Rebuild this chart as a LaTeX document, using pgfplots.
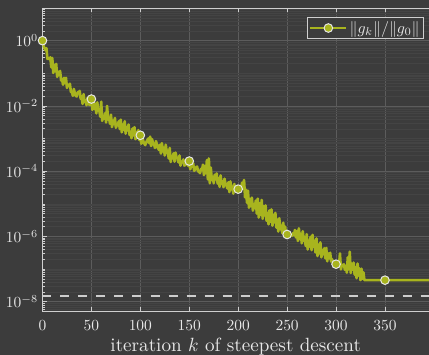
\documentclass[border=0pt]{standalone}
\usepackage{graphicx}
\usepackage{pgfplots}
\usepackage{pgfplotstable}
\pgfplotsset{compat=1.18}
\usetikzlibrary{backgrounds}
\definecolor{bg}{HTML}{3C3C3C}
\definecolor{axc}{HTML}{CFCFCF}
\definecolor{txt}{HTML}{E8E8E8}
\definecolor{gmaj}{HTML}{5C5C5C}
\definecolor{gmin}{HTML}{444444}
\definecolor{lc}{HTML}{A8B41E}
\definecolor{mk}{HTML}{E6E6E6}
\definecolor{dsh}{HTML}{CDCDCD}
\newcommand{\tl}[1]{\scalebox{1.55}{#1}}
\pgfplotstableread{
k ly
0 0.00
1 -0.15
2 -0.23
3 -0.29
4 -0.23
5 -0.56
6 -0.53
7 -0.57
8 -0.51
9 -0.82
10 -0.53
11 -0.99
12 -0.74
13 -0.94
14 -0.71
15 -1.11
16 -0.95
17 -1.05
18 -0.93
19 -1.22
20 -1.19
21 -1.35
22 -1.14
23 -1.30
24 -1.14
25 -1.45
26 -1.35
27 -1.38
28 -1.32
29 -1.57
30 -1.56
31 -1.69
32 -1.48
33 -1.60
34 -1.69
35 -1.71
36 -1.58
37 -1.61
38 -1.54
39 -1.78
40 -1.71
41 -1.94
42 -1.64
43 -1.88
44 -1.83
45 -1.98
46 -1.75
47 -1.83
48 -1.97
49 -1.96
50 -1.79
51 -2.12
52 -1.80
53 -2.09
54 -1.94
55 -2.23
56 -1.89
57 -2.15
58 -2.11
59 -2.33
60 -1.87
61 -2.46
62 -2.30
63 -2.39
64 -2.22
65 -2.51
66 -2.00
67 -2.41
68 -2.37
69 -2.55
70 -2.27
71 -2.65
72 -2.45
73 -2.56
74 -2.37
75 -2.67
76 -2.58
77 -2.56
78 -2.47
79 -2.71
80 -2.42
81 -2.81
82 -2.57
83 -2.73
84 -2.47
85 -2.85
86 -2.65
87 -2.74
88 -2.57
89 -2.89
90 -2.79
91 -2.99
92 -2.69
93 -2.90
94 -2.65
95 -3.02
96 -2.81
97 -2.91
98 -2.74
99 -3.05
100 -2.90
101 -3.16
102 -2.96
103 -3.08
104 -3.15
105 -3.20
106 -3.12
107 -3.06
108 -3.00
109 -3.14
110 -2.94
111 -3.23
112 -3.02
113 -3.16
114 -3.18
115 -3.29
116 -3.08
117 -3.19
118 -3.29
119 -3.35
120 -3.19
121 -3.46
122 -3.14
123 -3.39
124 -3.28
125 -3.52
126 -3.19
127 -3.44
128 -3.37
129 -3.61
130 -3.29
131 -3.72
132 -3.53
133 -3.61
134 -3.45
135 -3.71
136 -3.43
137 -3.59
138 -3.59
139 -3.73
140 -3.52
141 -3.83
142 -3.71
143 -3.73
144 -3.64
145 -3.83
146 -3.80
147 -3.71
148 -3.75
149 -3.84
150 -3.69
151 -3.94
152 -3.84
153 -3.86
154 -3.76
155 -3.99
156 -3.95
157 -3.88
158 -3.86
159 -4.00
160 -4.02
161 -4.06
162 -3.93
163 -3.97
164 -3.80
165 -4.12
166 -3.84
167 -4.06
168 -3.66
169 -4.25
170 -3.61
171 -4.37
172 -3.89
173 -4.27
174 -4.17
175 -4.37
176 -4.11
177 -4.25
178 -4.07
179 -4.38
180 -4.22
181 -4.48
182 -4.13
183 -4.38
184 -4.31
185 -4.49
186 -4.23
187 -4.39
188 -4.44
189 -4.53
190 -4.34
191 -4.64
192 -4.31
193 -4.56
194 -4.47
195 -4.69
196 -4.39
197 -4.59
198 -4.58
199 -4.64
200 -4.55
201 -4.59
202 -4.48
203 -4.50
204 -4.35
205 -4.53
206 -4.27
207 -4.80
208 -4.57
209 -4.97
210 -4.60
211 -5.12
212 -4.85
213 -5.07
214 -4.81
215 -5.21
216 -5.02
217 -5.13
218 -4.90
219 -5.30
220 -4.84
221 -5.42
222 -4.98
223 -5.34
224 -4.88
225 -5.46
226 -5.07
227 -5.36
228 -5.05
229 -5.52
230 -5.29
231 -5.63
232 -5.20
233 -5.55
234 -5.17
235 -5.67
236 -5.34
237 -5.57
238 -5.28
239 -5.73
240 -5.49
241 -5.85
242 -5.44
243 -5.78
244 -5.67
245 -5.90
246 -5.58
247 -5.85
248 -5.70
249 -5.96
250 -5.94
251 -5.98
252 -5.96
253 -5.99
254 -5.95
255 -5.98
256 -5.90
257 -5.96
258 -5.80
259 -6.03
260 -5.84
261 -6.14
262 -5.75
263 -6.08
264 -5.92
265 -6.21
266 -5.84
267 -6.13
268 -6.02
269 -6.29
270 -5.93
271 -6.40
272 -6.13
273 -6.31
274 -6.01
275 -6.42
276 -5.95
277 -6.32
278 -6.13
279 -6.49
280 -6.06
281 -6.60
282 -6.25
283 -6.52
284 -6.18
285 -6.64
286 -6.42
287 -6.54
288 -6.36
289 -6.67
290 -6.35
291 -6.76
292 -6.52
293 -6.67
294 -6.50
295 -6.77
296 -6.70
297 -6.84
298 -6.82
299 -6.87
300 -6.85
301 -6.94
302 -6.78
303 -6.90
304 -6.52
305 -7.01
306 -6.87
307 -6.89
308 -6.85
309 -7.02
310 -6.90
311 -7.11
312 -6.64
313 -7.01
314 -6.47
315 -7.12
316 -6.83
317 -7.02
318 -6.80
319 -7.17
320 -6.94
321 -7.28
322 -6.83
323 -7.20
324 -6.98
325 -7.34
326 -6.99
327 -7.30
328 -7.10
329 -7.34
330 -7.34
395 -7.34
}\gradtable
\pgfplotstableread{
k ly
0 0.00
50 -1.79
100 -2.90
150 -3.69
200 -4.55
250 -5.94
300 -6.85
350 -7.34
}\marktable
\begin{document}
\begin{tikzpicture}
\begin{axis}[name=ax,
  scale only axis, width=386.5bp, height=303.7bp,
  ymode=log, xmin=0, xmax=395, ymin=4.94e-9, ymax=10,
  axis background/.style={fill=bg},
  separate axis lines,
  axis x line*=box, axis y line*=left,
  axis line style={draw=axc, line width=0.8bp},
  xtick={0,50,...,350},
  xticklabels={\tl{0},\tl{50},\tl{100},\tl{150},\tl{200},\tl{250},\tl{300},\tl{350}},
  ytick={1e-8,1e-6,1e-4,1e-2,1},
  yticklabels={\tl{$10^{-8}$},\tl{$10^{-6}$},\tl{$10^{-4}$},\tl{$10^{-2}$},\tl{$10^{0}$}},
  minor ytick={5e-9,6e-9,7e-9,8e-9,9e-9,
    2e-8,3e-8,4e-8,5e-8,6e-8,7e-8,8e-8,9e-8,1e-7,
    2e-7,3e-7,4e-7,5e-7,6e-7,7e-7,8e-7,9e-7,
    2e-6,3e-6,4e-6,5e-6,6e-6,7e-6,8e-6,9e-6,1e-5,
    2e-5,3e-5,4e-5,5e-5,6e-5,7e-5,8e-5,9e-5,
    2e-4,3e-4,4e-4,5e-4,6e-4,7e-4,8e-4,9e-4,1e-3,
    2e-3,3e-3,4e-3,5e-3,6e-3,7e-3,8e-3,9e-3,
    2e-2,3e-2,4e-2,5e-2,6e-2,7e-2,8e-2,9e-2,1e-1,
    2e-1,3e-1,4e-1,5e-1,6e-1,7e-1,8e-1,9e-1,
    2,3,4,5,6,7,8,9},
  ytick pos=left, xtick pos=both,
  tick align=inside,
  grid=both,
  major grid style={draw=gmaj, line width=0.7bp},
  minor grid style={draw=gmin, line width=0.4bp},
  major tick style={draw=axc, line width=0.7bp},
  minor tick style={draw=axc, line width=0.5bp},
  tick label style={text=txt},
  xticklabel style={anchor=base, yshift=-18.8bp},
  yticklabel style={xshift=-1bp},
  xlabel={\scalebox{1.92}{iteration $k$ of steepest descent}},
  xlabel style={text=txt, at={(axis description cs:0.5,0)}, anchor=base, yshift=-39.5bp},
  legend style={at={(rel axis cs:1,1)}, anchor=north east, xshift=-5bp, yshift=-9bp,
    fill=bg, draw=axc, line width=0.6bp, text=txt, inner sep=2bp},
  legend image code/.code={\draw[mark repeat=2,mark phase=2,#1] plot coordinates {(0bp,0bp) (18bp,0bp) (36bp,0bp)};},
  clip mode=individual,
]
\addplot[forget plot, dsh, line width=2.5bp, dash pattern=on 9bp off 9bp] coordinates {(0,1.49e-8) (395,1.49e-8)};
\addplot[forget plot, lc, line width=2.6bp, line join=round] table[x=k, y expr=10^(\thisrow{ly})] {\gradtable};
\addplot[forget plot, only marks, mark=*, mark size=4.3bp, mark options={fill=lc, draw=mk, line width=1bp}] table[x=k, y expr=10^(\thisrow{ly})] {\marktable};
\addlegendimage{lc, line width=2.6bp, mark=*, mark size=4.3bp, mark options={fill=lc, draw=mk, line width=1bp}}
\addlegendentry{\scalebox{1.6}{$\|g_k\|/\|g_0\|$}}
\end{axis}
\begin{scope}[on background layer]
\fill[bg] ([xshift=-42.5bp, yshift=-43.3bp]ax.south west) rectangle ([yshift=8bp]ax.north east);
\end{scope}
\pgfresetboundingbox
\path[use as bounding box] ([xshift=-42.5bp, yshift=-43.3bp]ax.south west) rectangle ([yshift=8bp]ax.north east);
\end{tikzpicture}
\end{document}
